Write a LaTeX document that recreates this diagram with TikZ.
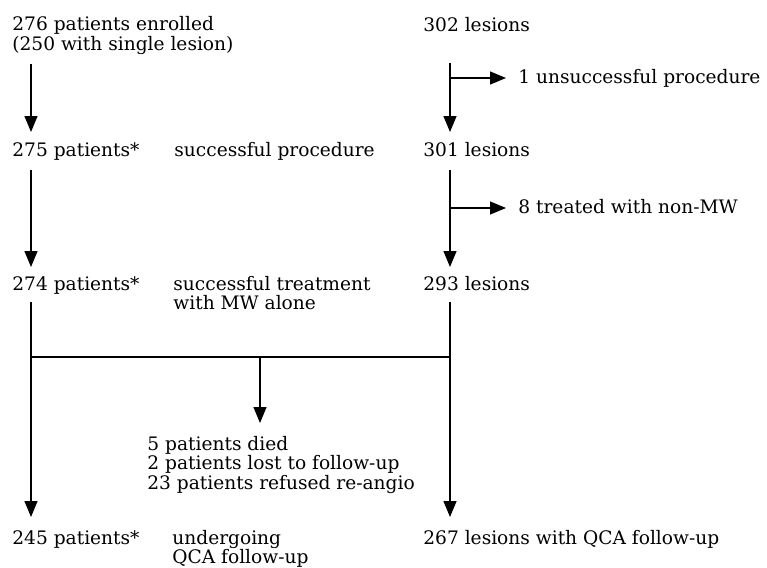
\documentclass[tikz,border=0pt]{standalone}
\usepackage{fontspec}
\setmainfont{DejaVu Serif}
\usetikzlibrary{arrows.meta}
\tikzset{
  txt/.style={anchor=base west, inner sep=0pt, align=left, font=\fontsize{9.3pt}{9.75pt}\selectfont},
  flow/.style={line width=0.65pt, -{Triangle[length=8pt,width=6.5pt]}},
  link/.style={line width=0.65pt}
}
\begin{document}
\begin{tikzpicture}[x=0.5pt,y=-0.5pt]
                \useasboundingbox (0,0) rectangle (767,568);
                % multi-line nodes sit on the baseline of their last line
                \node[txt] (P1) at (12,50) {276 patients enrolled\\(250 with single lesion)};
                \node[txt] (L1) at (423,31) {302 lesions};
                \node[txt] (X1) at (518,83) {1 unsuccessful procedure};
                \node[txt] (P2) at (12,156) {275 patients*};
                \node[txt] (S2) at (174,156) {successful procedure};
                \node[txt] (L2) at (423,156) {301 lesions};
                \node[txt] (X2) at (518,213) {8 treated with non-MW};
                \node[txt] (P3) at (12,290) {274 patients*};
                \node[txt] (S3) at (173,309.5) {successful treatment\\with MW alone};
                \node[txt] (L3) at (423,290) {293 lesions};
                \node[txt] (D) at (147,489) {5 patients died\\2 patients lost to follow-up\\23 patients refused re-angio};
                \node[txt] (P4) at (12,544) {245 patients*};
                \node[txt] (S4) at (172,563.5) {undergoing\\QCA follow-up};
                \node[txt] (L4) at (423,544) {267 lesions with QCA follow-up};
                % end points of the connectors
                \coordinate (A1) at (31,64);
                \coordinate (A2) at (31,132);
                \coordinate (A3) at (31,170);
                \coordinate (A4) at (31,267);
                \coordinate (A5) at (31,302);
                \coordinate (A6) at (31,517);
                \coordinate (B1) at (450,63);
                \coordinate (B2) at (450,132);
                \coordinate (B3) at (450,170);
                \coordinate (B4) at (450,267);
                \coordinate (B5) at (450,302);
                \coordinate (B6) at (450,517);
                \coordinate (E1) at (450,78);
                \coordinate (F1) at (506,78);
                \coordinate (E2) at (450,208);
                \coordinate (F2) at (506,208);
                \coordinate (H1) at (31,357);
                \coordinate (H2) at (450,357);
                \coordinate (M1) at (260,357);
                \coordinate (M2) at (260,423);
                \draw[flow] (A1) -- (A2);
                \draw[flow] (A3) -- (A4);
                \draw[flow] (A5) -- (A6);
                \draw[flow] (B1) -- (B2);
                \draw[flow] (B3) -- (B4);
                \draw[flow] (B5) -- (B6);
                \draw[flow] (E1) -- (F1);
                \draw[flow] (E2) -- (F2);
                \draw[link] (H1) -- (H2);
                \draw[flow] (M1) -- (M2);
            \end{tikzpicture}
\end{document}
